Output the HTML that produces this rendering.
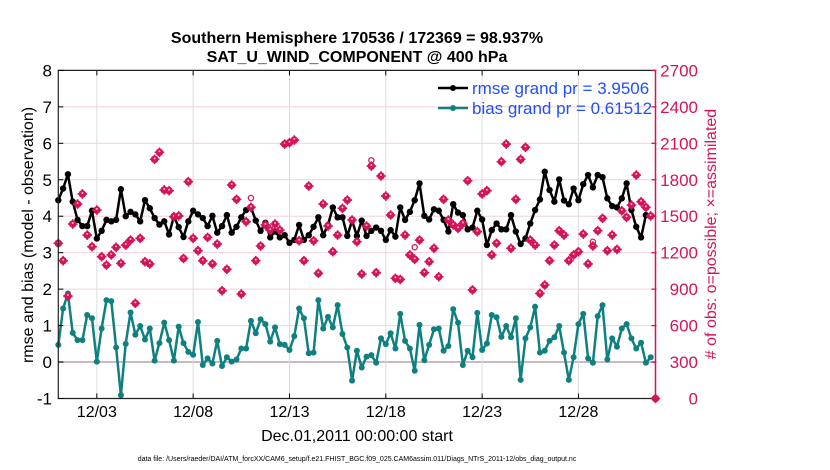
<!DOCTYPE html>
<html><head><meta charset="utf-8"><style>
body{margin:0;background:#fff;}
svg{display:block;font-family:"Liberation Sans",Arial,sans-serif;}
</style></head><body>
<svg id="chart" width="830" height="470" viewBox="0 0 830 470" xmlns="http://www.w3.org/2000/svg">
<text x="357" y="43" text-anchor="middle" font-size="16" font-weight="bold">Southern Hemisphere 170536 / 172369 = 98.937%</text>
<text x="357" y="62" text-anchor="middle" font-size="16" font-weight="bold">SAT_U_WIND_COMPONENT @ 400 hPa</text>
<g id="grid"></g>
<g id="marks"></g>
<g id="axes"></g>
<text transform="translate(33,235) rotate(-90)" text-anchor="middle" font-size="16">rmse and bias (model - observation)</text>
<text transform="translate(716,234) rotate(-90)" text-anchor="middle" font-size="16" fill="#d4145a"># of obs: o=possible; ×=assimilated</text>
<text x="357" y="441" text-anchor="middle" font-size="16">Dec.01,2011 00:00:00 start</text>
<text x="357" y="461" text-anchor="middle" font-size="7">data file: /Users/raeder/DAI/ATM_forcXX/CAM6_setup/f.e21.FHIST_BGC.f09_025.CAM6assim.011/Diags_NTrS_2011-12/obs_diag_output.nc</text>
<g>
<line x1="438" y1="88" x2="468" y2="88" stroke="#000" stroke-width="2.5"/>
<circle cx="453" cy="88" r="3" fill="#000"/>
<text x="472" y="94" font-size="17" fill="#1f4fff">rmse grand pr = 3.9506</text>
<line x1="438" y1="108" x2="468" y2="108" stroke="#0f8080" stroke-width="2.5"/>
<circle cx="453" cy="108" r="3" fill="#0f8080"/>
<text x="472" y="114" font-size="17" fill="#1f4fff">bias grand pr = 0.61512</text>
</g>
</svg>
<script>
const rmse = [4.44,4.76,5.15,4.40,3.90,3.73,3.73,4.15,3.39,3.60,3.90,3.86,3.90,4.74,4.00,4.12,4.05,3.86,4.44,4.22,3.95,3.77,3.86,3.50,4.00,3.70,3.43,3.86,4.15,4.05,3.95,3.73,
4.01,3.55,3.73,4.03,3.55,3.71,3.97,4.17,4.24,3.88,3.60,3.82,3.42,3.58,3.42,3.48,3.27,3.35,3.76,3.35,3.48,3.71,3.97,3.48,3.76,4.24,3.97,3.97,3.46,3.88,3.46,
3.88,3.46,3.60,3.69,3.60,3.35,3.62,3.44,4.24,3.90,4.12,4.44,4.90,4.01,3.91,4.19,4.15,3.90,3.58,4.33,4.10,4.03,3.64,3.69,4.15,3.91,3.21,3.62,3.80,3.64,
3.64,4.03,3.58,3.24,3.39,3.80,4.17,4.46,5.22,4.72,4.40,5.01,4.43,4.33,4.76,4.44,4.88,5.13,4.79,5.13,5.07,4.49,4.28,4.24,4.49,4.90,4.17,3.71,3.42,4.03,4.01];
const bias = [0.47,1.47,1.88,0.80,0.60,0.60,1.29,1.20,0.01,0.92,1.70,1.67,0.40,-0.91,0.50,1.36,0.75,0.99,0.62,0.92,0.04,0.52,1.08,0.60,0.04,0.97,0.52,0.28,0.20,1.10,-0.08,0.10,
-0.04,0.58,-0.11,0.13,0.01,0.07,0.37,0.37,1.13,0.79,1.17,1.04,0.56,0.95,0.49,0.47,0.33,0.71,1.47,1.20,0.24,0.26,1.70,0.92,1.24,0.95,1.56,0.77,0.40,-0.51,0.31,
-0.15,0.15,0.19,-0.02,0.65,0.49,0.79,0.37,1.32,0.58,0.37,-0.24,1.02,0.05,0.47,0.90,0.92,0.31,0.44,1.45,1.08,-0.08,0.31,0.13,1.35,0.33,0.51,1.29,1.23,0.69,
0.99,0.68,1.20,-0.49,0.65,0.95,1.52,0.26,0.31,0.58,0.68,0.99,0.26,-0.49,0.13,1.04,1.32,0.10,-0.02,1.26,1.56,0.07,0.65,0.42,0.92,1.04,0.65,0.37,0.53,-0.02,0.13];
const obsCounts = [1277,1134,843,1436,1600,1683,1345,1249,1551,1167,1098,1181,1244,1112,1263,1304,783,1318,1126,1107,1968,2026,1716,1710,1496,1502,1153,1784,1318,1216,1134,1326,
1107,1271,887,1063,1757,1639,860,1455,1573,1134,1255,1428,1386,1436,1386,2094,2105,2127,1298,1134,1748,1298,1030,1600,1419,1208,1345,1565,1633,1469,1290,
1024,1419,1913,1035,1831,1666,1510,989,980,1345,1181,1145,1304,1035,1126,1236,1002,1639,1469,1428,1400,1441,1792,893,1373,1683,1710,1181,1277,1949,2094,
1236,1639,1968,2067,1304,1263,865,934,1134,1263,1381,1345,1134,1181,1208,1353,1107,1255,1381,1483,1216,1345,1227,1545,1491,1592,1839,1619,1573,1502,0];
const possibleExtraIdx = [65,74,40,111];
const possibleExtraCount = [1960,1245,1650,1290];
const leftTicks = [-1,0,1,2,3,4,5,6,7,8];
const rightTicks = [0,300,600,900,1200,1500,1800,2100,2400,2700];
const dateTickDays = [2,7,12,17,22,27];
const dateTickLabels = ["12/03","12/08","12/13","12/18","12/23","12/28"];

const NS="http://www.w3.org/2000/svg";
const X0=58.3, X1=655.5, Y0=398.5, Y1=70.4;
function xOf(day){return X0+day*(X1-X0)/31;}
function yL(v){return Y0-(v+1)*(Y0-Y1)/9;}
function yR(c){return yL(c/300-1);}
function mk(tag,attrs,parent){const e=document.createElementNS(NS,tag);for(const k in attrs)e.setAttribute(k,attrs[k]);parent.appendChild(e);return e;}
const grid=document.getElementById('grid'), marks=document.getElementById('marks'), axes=document.getElementById('axes');

for(const v of leftTicks){ if(v<=-1||v>=8) continue;
  const l=mk('line',{x1:X0,x2:X1,y1:yL(v),y2:yL(v),stroke:v===0?'#c9b9c0':'#f3d0de','stroke-width':v===0?2:1},grid);
  
  
}
dateTickDays.forEach((d,i)=>{
  const l=mk('line',{x1:xOf(d),x2:xOf(d),y1:Y1,y2:Y0,stroke:'#dcdcdc','stroke-width':1},grid);
  
  
  const t1=mk('line',{x1:xOf(d),x2:xOf(d),y1:Y0,y2:Y0-5,stroke:'#000'},axes);
  
  
  const t2=mk('line',{x1:xOf(d),x2:xOf(d),y1:Y1,y2:Y1+5,stroke:'#000'},axes);
  
  
  const tx=mk('text',{x:xOf(d),y:417,'text-anchor':'middle','font-size':16},axes);
  tx.textContent=dateTickLabels[i];
  
  
});

const bp=bias.map((v,i)=>xOf(i*0.25).toFixed(1)+','+yL(v).toFixed(1)).join(' ');
const bl=mk('polyline',{points:bp,fill:'none',stroke:'#0f8080','stroke-width':2.5,'stroke-linejoin':'round'},marks);


bias.forEach((v,i)=>{const c=mk('circle',{cx:xOf(i*0.25),cy:yL(v),r:3,fill:'#0f8080'},marks);
  
  });

const rp=rmse.map((v,i)=>xOf(i*0.25).toFixed(1)+','+yL(v).toFixed(1)).join(' ');
const rl=mk('polyline',{points:rp,fill:'none',stroke:'#000','stroke-width':2.5,'stroke-linejoin':'round'},marks);


rmse.forEach((v,i)=>{const c=mk('circle',{cx:xOf(i*0.25),cy:yL(v),r:3.2,fill:'#000'},marks);
  
  });

const PINK='#d4145a';
function obsMarker(x,y,name){
  const g=mk('g',{},marks);
  
  
  mk('circle',{cx:x,cy:y,r:3.8,fill:PINK},g);
  mk('path',{d:`M${x-4.8},${y}H${x+4.8}M${x},${y-4.8}V${y+4.8}`,stroke:PINK,'stroke-width':1.6},g);
  mk('circle',{cx:x,cy:y-1,r:1,fill:'#f6b5cc'},g);
}
obsCounts.forEach((c,i)=>obsMarker(xOf(i*0.25),yR(c),'obs-count-point'));
possibleExtraIdx.forEach((idx,k)=>{
  const c=mk('circle',{cx:xOf(idx*0.25),cy:yR(possibleExtraCount[k]),r:2.6,fill:'none',stroke:PINK,'stroke-width':1.3},marks);
  
  
});

const fr=mk('path',{d:`M${X1},${Y1}H${X0}V${Y0}H${X1}`,fill:'none',stroke:'#222','stroke-width':1.2},axes);


const ra=mk('line',{x1:X1,x2:X1,y1:Y1,y2:Y0,stroke:PINK,'stroke-width':1.5},axes);


leftTicks.forEach(v=>{
  const t=mk('line',{x1:X0,x2:X0+5,y1:yL(v),y2:yL(v),stroke:'#000'},axes);
  
  
  const tx=mk('text',{x:52,y:yL(v)+6,'text-anchor':'end','font-size':17},axes);
  tx.textContent=v;
  
  
});
rightTicks.forEach(c=>{
  const t=mk('line',{x1:X1-4,x2:X1+1,y1:yR(c),y2:yR(c),stroke:PINK,'stroke-width':1.3},axes);
  
  
  const tx=mk('text',{x:698,y:yR(c)+6,'text-anchor':'end','font-size':17,fill:PINK},axes);
  tx.textContent=c;
  
  
});
</script>
</body></html>
